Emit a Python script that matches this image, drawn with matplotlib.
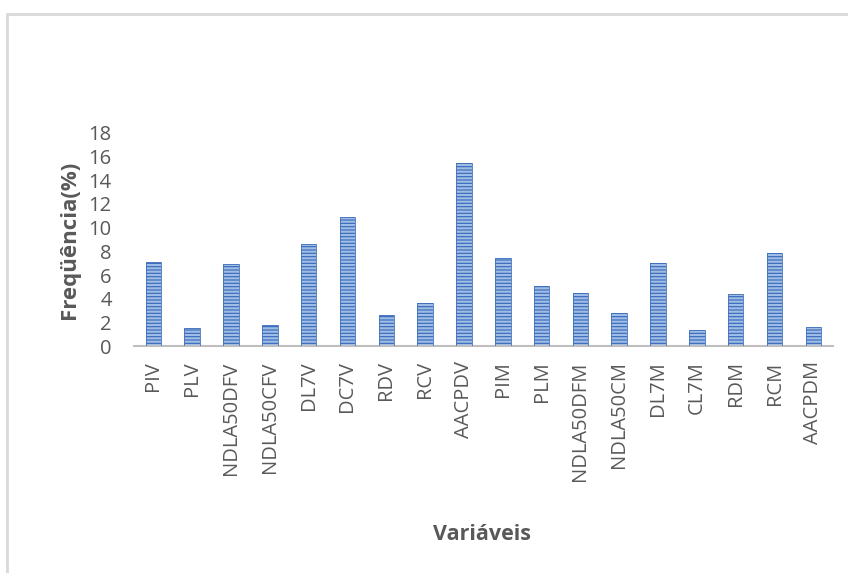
import matplotlib

matplotlib.use("Agg")
import matplotlib.pyplot as plt  # noqa: E402
from matplotlib.patches import Rectangle  # noqa: E402

categories = [
    "PIV", "PLV", "NDLA50DFV", "NDLA50CFV", "DL7V", "DC7V", "RDV", "RCV",
    "AACPDV", "PIM", "PLM", "NDLA50DFM", "NDLA50CM", "DL7M", "CL7M", "RDM",
    "RCM", "AACPDM",
]
freq = [7.1, 1.5, 6.9, 1.8, 8.6, 10.9, 2.6, 3.6, 15.5, 7.4, 5.1, 4.5,
        2.8, 7.0, 1.4, 4.4, 7.9, 1.6]
yticks = list(range(0, 20, 2))

TEXT = "#595959"
plt.rcParams["font.family"] = ["Open Sans", "DejaVu Sans"]
plt.rcParams["hatch.linewidth"] = 1.6

fig = plt.figure(figsize=(8.48, 5.73), dpi=100)
# outer chart-area frame (cut off at right and bottom like the screenshot)
fig.patches.append(Rectangle((0.008, -0.05), 1.1, 1.025, transform=fig.transFigure,
                             fill=False, edgecolor="#d9d9d9", linewidth=2))

ax = fig.add_axes([0.158, 0.396, 0.824, 0.372])
x = range(len(categories))
ax.bar(x, freq, width=0.4, color="#3567b8", edgecolor="#a0bde6",
       hatch="-----", linewidth=0, zorder=2)
ax.bar(x, freq, width=0.4, fill=False, edgecolor="#3f70bb", linewidth=0.6, zorder=3)

ax.set_xlim(-0.5, len(categories) - 0.5)
ax.set_ylim(0, 18)
ax.set_yticks(yticks)
ax.set_xticks(list(x))
ax.set_xticklabels(categories, rotation=90)
ax.tick_params(axis="both", length=0, labelsize=14.5, colors=TEXT)
ax.tick_params(axis="x", pad=11)
ax.tick_params(axis="y", pad=16)
for s in ("top", "right", "left"):
    ax.spines[s].set_visible(False)
ax.spines["bottom"].set_color("#bfbfbf")
ax.spines["bottom"].set_linewidth(1.5)

ax.set_ylabel("Freqüência(%)", fontsize=16, fontweight="bold", color=TEXT, labelpad=6)
fig.text(0.568, 0.068, "Variáveis", ha="center", va="center",
         fontsize=15.5, fontweight="bold", color=TEXT)

fig.savefig("out.png", dpi=100)
